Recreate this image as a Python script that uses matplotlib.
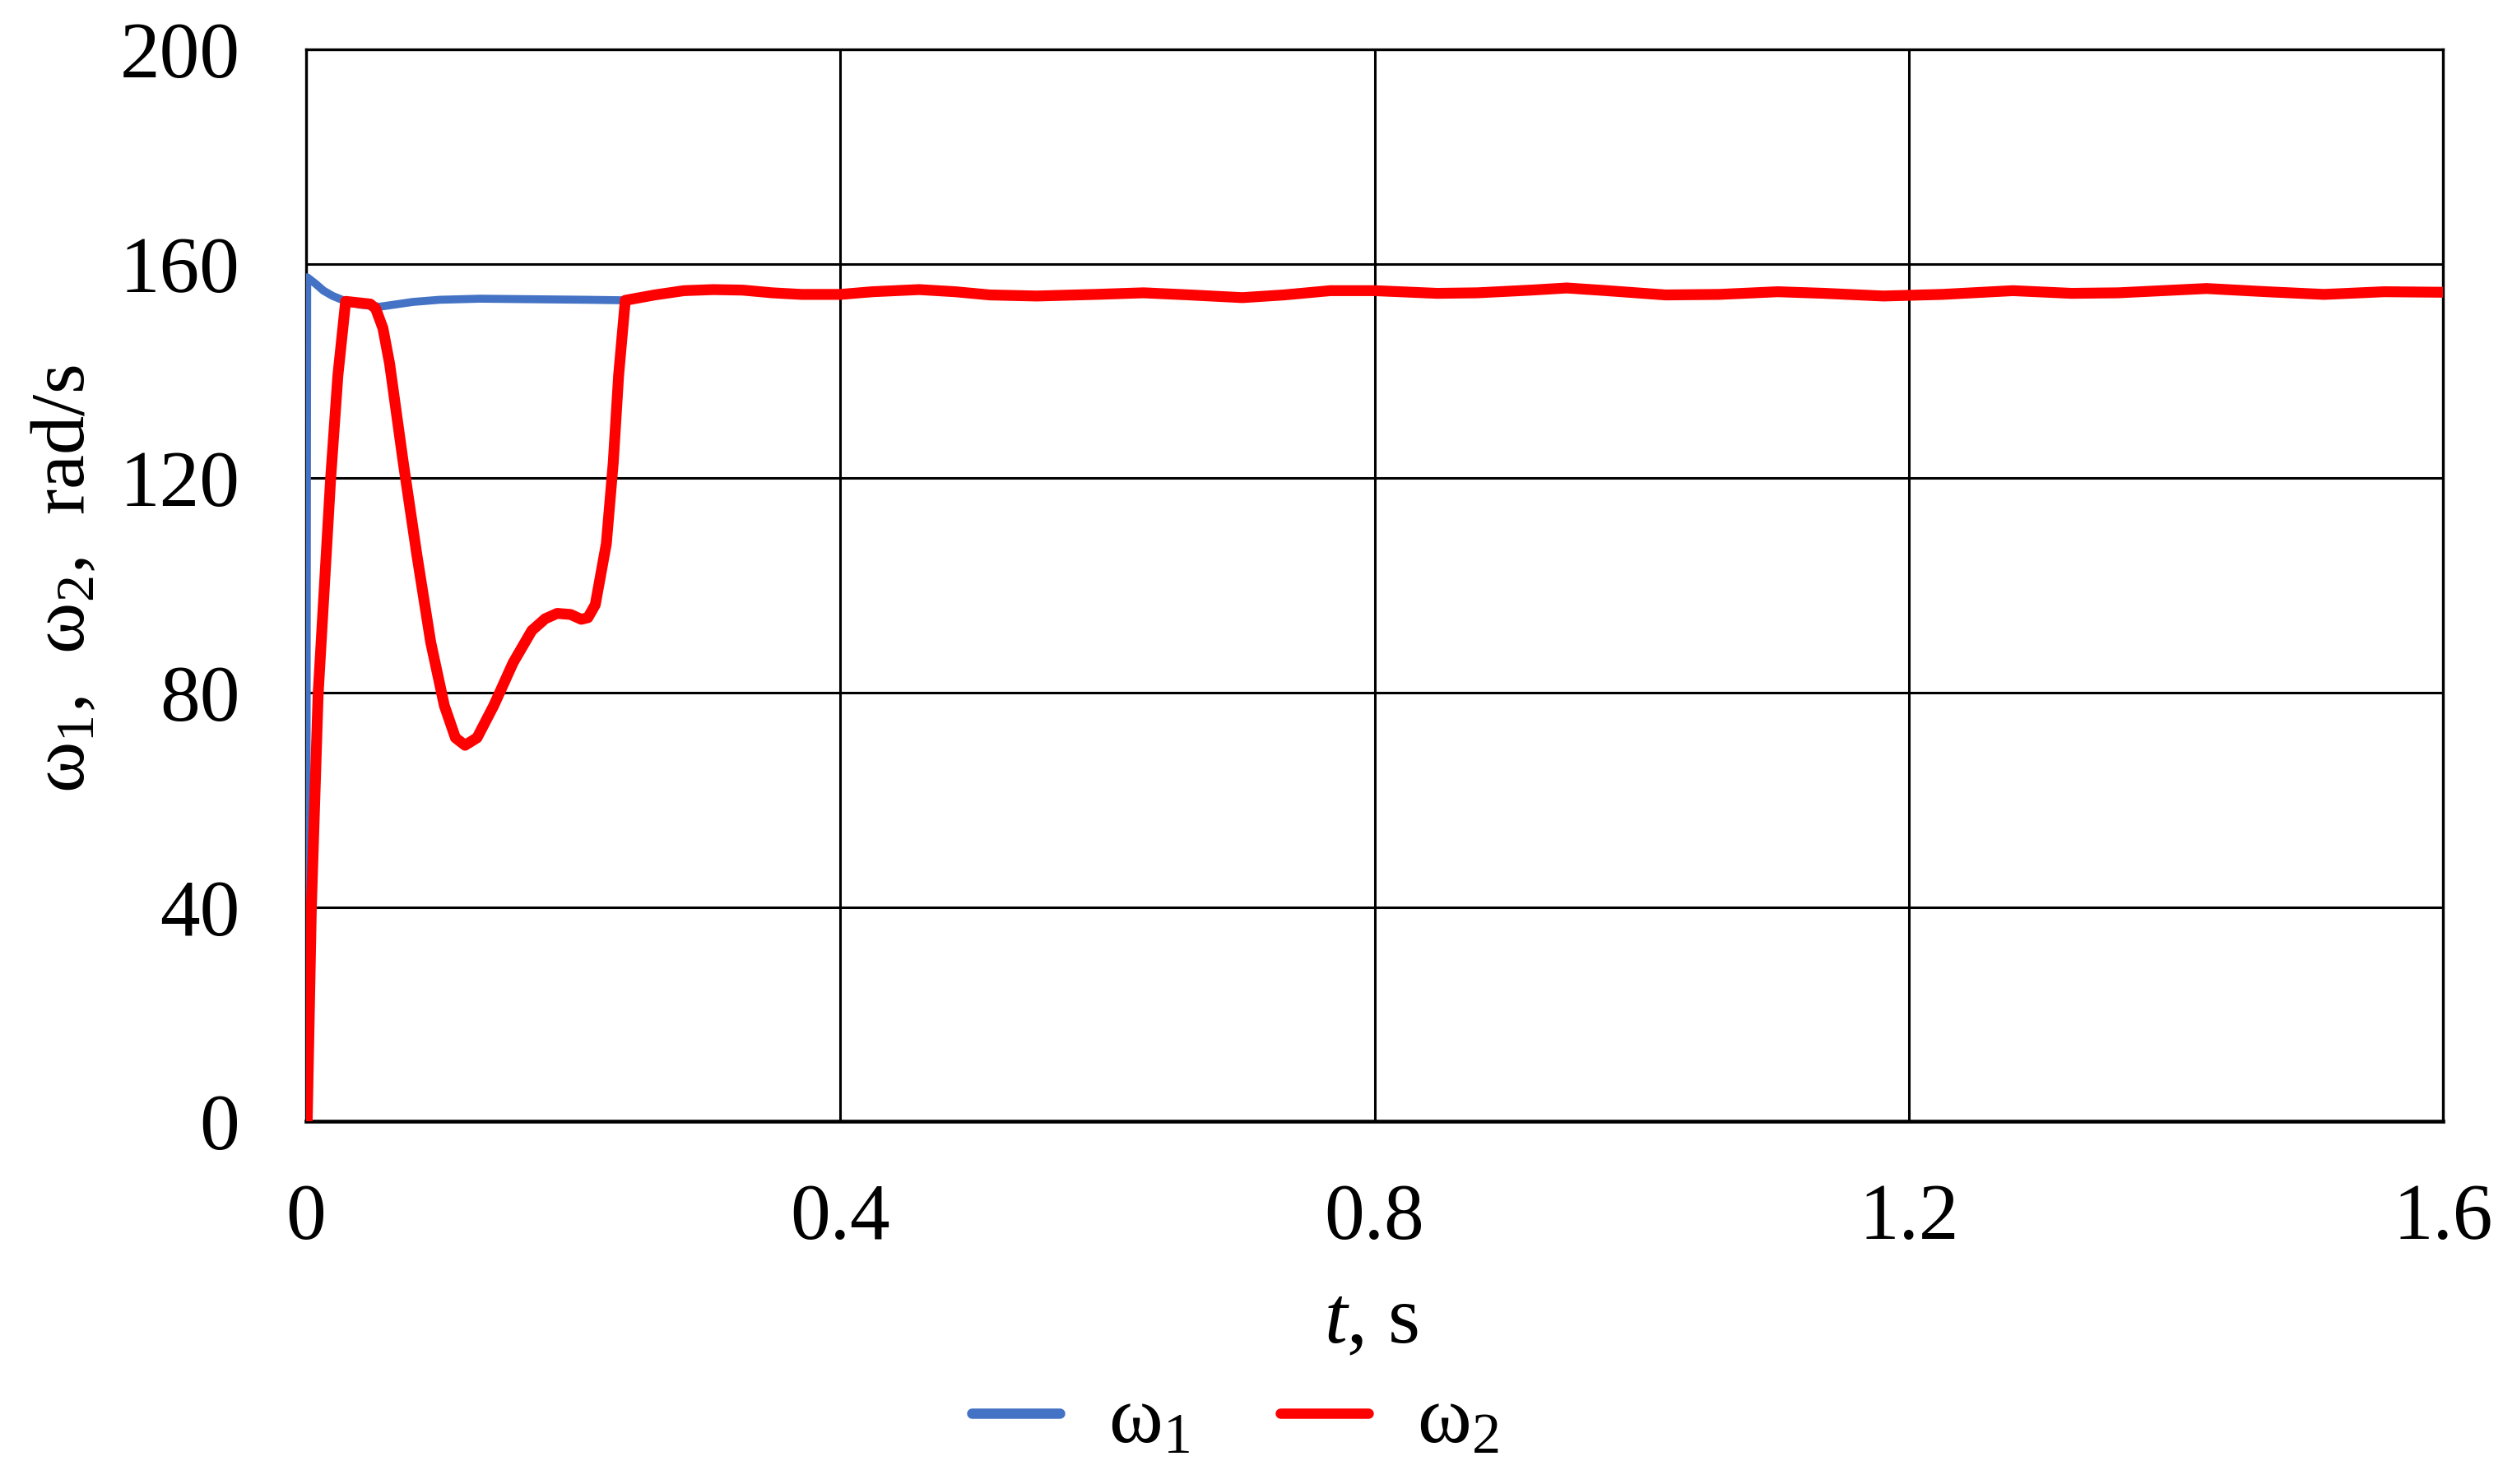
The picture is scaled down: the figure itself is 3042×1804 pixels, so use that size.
import matplotlib
matplotlib.use("Agg")
import matplotlib.pyplot as plt

plt.rcParams['font.family'] = ['Liberation Serif', 'DejaVu Serif']
plt.rcParams['mathtext.fontset'] = 'custom'
plt.rcParams['mathtext.rm'] = 'Liberation Serif'
plt.rcParams['mathtext.it'] = 'Liberation Serif:italic'
plt.rcParams['mathtext.default'] = 'regular'

# steady part, both speeds coincide here
t_steady = [0.261, 0.283, 0.305, 0.327, 0.349, 0.371, 0.4, 0.424, 0.459, 0.486,
            0.512, 0.547, 0.591, 0.627, 0.662, 0.701, 0.732, 0.767, 0.8, 0.847,
            0.877, 0.917, 0.944, 0.974, 1.018, 1.058, 1.102, 1.137, 1.181, 1.225,
            1.278, 1.322, 1.357, 1.423, 1.468, 1.511, 1.556, 1.6]
w_steady = [154.2, 155.0, 155.2, 155.1, 154.6, 154.3, 154.3, 154.8, 155.2, 154.8,
            154.2, 154.0, 154.3, 154.6, 154.2, 153.7, 154.2, 155.0, 155.0, 154.5,
            154.6, 155.1, 155.5, 155.0, 154.2, 154.3, 154.8, 154.5, 154.0, 154.3,
            155.0, 154.5, 154.6, 155.4, 154.8, 154.3, 154.8, 154.7]

# omega1 start-up
t1_start = [0.0, 0.0008, 0.007, 0.013, 0.02, 0.028, 0.04, 0.055, 0.08, 0.1,
            0.13, 0.17, 0.21, 0.239]
w1_start = [0.0, 157.5, 156.3, 155.0, 154.0, 153.2, 152.4, 152.0, 152.9, 153.3,
            153.5, 153.4, 153.3, 153.2]

# omega2 start-up
t2_start = [0.0, 0.0008, 0.0039, 0.009, 0.0183, 0.0238, 0.0296, 0.048, 0.052,
            0.0575, 0.0625, 0.0727, 0.083, 0.0933, 0.1035, 0.1118, 0.119, 0.128,
            0.1405, 0.155, 0.169, 0.179, 0.188, 0.198, 0.206, 0.211, 0.2165,
            0.2248, 0.23, 0.234, 0.239]
w2_start = [0.0, 0.0, 39.7, 79.7, 119.7, 139.2, 153.0, 152.5, 151.7,
            148.0, 141.4, 123.0, 105.6, 89.4, 77.6, 71.6, 70.2, 71.6,
            77.6, 85.6, 91.6, 93.8, 94.8, 94.6, 93.7, 94.0, 96.4,
            107.8, 123.0, 139.2, 153.2]

t1 = t1_start + t_steady
w1 = w1_start + w_steady
t2 = t2_start + t_steady
w2 = w2_start + w_steady

x_ticks = [0, 0.4, 0.8, 1.2, 1.6]
x_labels = ['0', '0.4', '0.8', '1.2', '1.6']
y_ticks = [0, 40, 80, 120, 160, 200]

fig = plt.figure(figsize=(30.42, 18.04), dpi=100)
ax = fig.add_axes([0.1223, 0.2442, 0.9760 - 0.1223, 0.9667 - 0.2442])

ax.plot(t1, w1, color='#4472C4', lw=7, label='ω$_1$', zorder=3,
        solid_joinstyle='round')
ax.plot(t2, w2, color='#FF0000', lw=9.5, label='ω$_2$', zorder=4,
        solid_joinstyle='round')

ax.set_xlim(0, 1.6)
ax.set_ylim(0, 200)
ax.set_xticks(x_ticks)
ax.set_xticklabels(x_labels)
ax.set_yticks(y_ticks)
ax.tick_params(length=0, labelsize=70)
ax.tick_params(axis='x', pad=54)
ax.tick_params(axis='y', pad=58)
ax.grid(True, color='black', lw=2.2)
ax.set_axisbelow(True)
for s in ['left', 'top', 'right']:
    ax.spines[s].set_linewidth(2.4)
ax.spines['bottom'].set_linewidth(3.3)

fig.text(0.026, 0.61, 'ω$_1$,  ω$_2$,  rad/s', rotation=90, fontsize=68,
         ha='center', va='center')
fig.text(0.548, 0.095, r'$\mathit{t}$, s', fontsize=72, ha='center', va='baseline')

leg = fig.legend(loc='center', bbox_to_anchor=(0.4935, 0.042), ncol=2,
                 frameon=False, fontsize=72, handlelength=1.07,
                 handletextpad=0.59, columnspacing=1.1)
for line in leg.get_lines():
    line.set_linewidth(9)
    line.set_solid_capstyle('round')

fig.savefig('out.png', dpi=100)
